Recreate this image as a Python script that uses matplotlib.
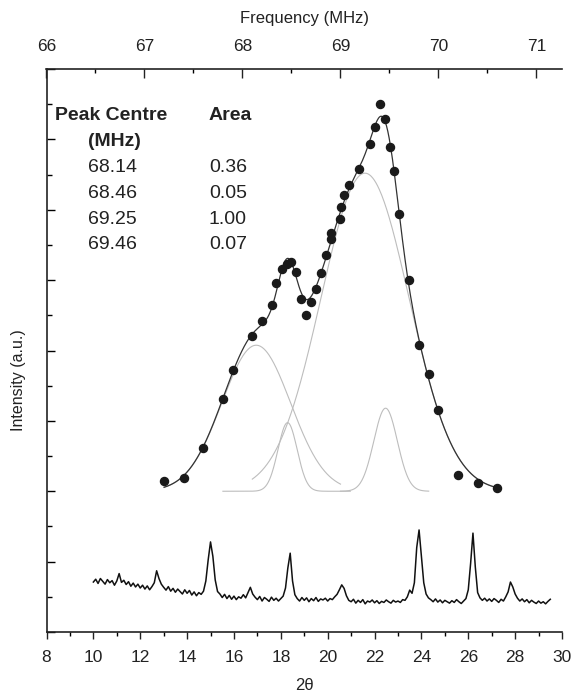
import numpy as np
import matplotlib.pyplot as plt
from matplotlib.ticker import MultipleLocator

plt.rcParams['font.family'] = ['Liberation Sans', 'DejaVu Sans']

# XRD trace (bottom), 2theta grid at 0.1 deg
theta = np.linspace(10.0, 29.5, 196)
xrd = [
    1.42, 1.50, 1.38, 1.52, 1.44, 1.36, 1.49, 1.40, 1.46, 1.33,
    1.45, 1.66, 1.41, 1.47, 1.35, 1.43, 1.30, 1.39, 1.28, 1.36,
    1.25, 1.33, 1.22, 1.31, 1.20, 1.29, 1.40, 1.74, 1.52, 1.36,
    1.27, 1.19, 1.29, 1.16, 1.24, 1.13, 1.22, 1.15, 1.08, 1.20,
    1.10, 1.18, 1.05, 1.14, 1.03, 1.12, 1.07, 1.16, 1.45, 2.05,
    2.56, 2.15, 1.48, 1.15, 1.08, 0.98, 1.07, 0.95, 1.04, 0.93,
    1.02, 0.92, 1.00, 0.96, 1.06, 0.97, 1.12, 1.27, 1.08, 0.99,
    0.92, 1.01, 0.88, 0.98, 0.93, 0.87, 0.99, 0.90, 0.96, 0.88,
    0.95, 1.02, 1.25, 1.82, 2.24, 1.45, 1.06, 0.95, 0.88, 0.98,
    0.90, 0.97, 0.86, 0.95, 0.89, 0.98, 0.87, 0.94, 0.91, 0.96,
    0.88, 0.95, 0.92, 1.00, 1.07, 1.20, 1.34, 1.24, 1.03, 0.90,
    0.86, 0.93, 0.82, 0.90, 0.84, 0.92, 0.80, 0.88, 0.85, 0.91,
    0.83, 0.89, 0.81, 0.87, 0.84, 0.91, 0.86, 0.82, 0.90, 0.85,
    0.88, 0.84, 0.92, 0.90, 1.00, 1.19, 1.10, 1.40, 2.40, 2.90,
    2.15, 1.40, 1.08, 0.97, 0.92, 0.86, 0.94, 0.85, 0.91, 0.83,
    0.90, 0.86, 0.82, 0.89, 0.84, 0.92, 0.86, 0.81, 0.88, 0.95,
    1.20, 1.95, 2.81, 1.85, 1.12, 0.97, 0.90, 0.96, 0.88, 0.94,
    0.87, 0.95, 0.90, 0.84, 0.93, 0.88, 1.00, 1.14, 1.42, 1.28,
    1.08, 0.96, 0.88, 0.94, 0.86, 0.92, 0.83, 0.90, 0.85, 0.81,
    0.88, 0.82, 0.86, 0.80, 0.87, 0.93,
]

# measured points of the spectrum (top)
dot_freq = [67.20, 67.40, 67.60, 67.80, 67.90, 68.10, 68.20, 68.30, 68.34, 68.40,
            68.45, 68.50, 68.55, 68.60, 68.65, 68.70, 68.75, 68.80, 68.85, 68.90,
            68.90, 68.99, 69.01, 69.04, 69.09, 69.19, 69.30, 69.35, 69.40, 69.45,
            69.51, 69.55, 69.60, 69.70, 69.80, 69.90, 70.00, 70.20, 70.40, 70.60]
dot_int = [4.29, 4.38, 5.22, 6.63, 7.45, 8.42, 8.85, 9.29, 9.92, 10.33,
           10.47, 10.52, 10.24, 9.45, 9.01, 9.38, 9.76, 10.19, 10.71, 11.16,
           11.33, 11.75, 12.08, 12.41, 12.70, 13.17, 13.88, 14.36, 15.00, 14.57,
           13.79, 13.10, 11.89, 10.00, 8.16, 7.33, 6.32, 4.47, 4.23, 4.09]

# fitted components
peak_centre = [68.14, 68.46, 69.25, 69.46]
peak_area = ['0.36', '0.05', '1.00', '0.07']
peak_height = [4.15, 1.95, 9.04, 2.36]
peak_sigma = [0.35, 0.098, 0.45, 0.12]
peak_lo = [67.2, 67.8, 68.1, 69.0]
peak_hi = [69.0, 69.1, 70.6, 69.9]
baseline = 4.0
fit_range = (67.2, 70.6)


def gauss(f, c, h, s):
    return h * np.exp(-(f - c) ** 2 / (2 * s ** 2))


fig = plt.figure(figsize=(5.76, 6.96), dpi=100)
ax = fig.add_axes([46.5 / 576, 64 / 696, 515.5 / 576, 563 / 696])
ax2 = ax.twiny()

# bottom trace
ax.plot(theta, xrd, color='#111111', lw=1.1)
ax.set_xlim(8, 30)
ax.set_ylim(0, 16)
ax.xaxis.set_major_locator(MultipleLocator(2))
ax.xaxis.set_minor_locator(MultipleLocator(1))
ax.yaxis.set_major_locator(MultipleLocator(2))
ax.yaxis.set_minor_locator(MultipleLocator(1))
ax.tick_params(axis='x', which='major', direction='out', length=5, width=1, pad=8, labelsize=12.5, colors='#222')
ax.tick_params(axis='x', which='minor', direction='out', length=3, width=1)
ax.tick_params(axis='y', which='major', direction='in', length=6, width=1, labelleft=False)
ax.tick_params(axis='y', which='minor', direction='in', length=3.5, width=1)
ax.set_xlabel('2θ', fontsize=12, color='#222', labelpad=9)
for s in ['top', 'right']:
    ax.spines[s].set_visible(False)
for s in ['left', 'bottom']:
    ax.spines[s].set_linewidth(1.2)
    ax.spines[s].set_color('#222')

# frequency axis and fit
ax2.set_xlim(66, 66 + 515.5 / 98)
ax2.xaxis.set_major_locator(MultipleLocator(1))
ax2.xaxis.set_minor_locator(MultipleLocator(0.5))
ax2.tick_params(axis='x', which='major', direction='in', length=6.5, width=1, pad=11, labelsize=12.5, colors='#222')
ax2.tick_params(axis='x', which='minor', direction='in', length=3, width=1)
ax2.set_xlabel('Frequency (MHz)', fontsize=12, color='#222', labelpad=11)
for s in ['bottom', 'left', 'right']:
    ax2.spines[s].set_visible(False)
ax2.spines['top'].set_linewidth(1.2)
ax2.spines['top'].set_color('#222')

for c, h, s, lo, hi in zip(peak_centre, peak_height, peak_sigma, peak_lo, peak_hi):
    f = np.linspace(lo, hi, 300)
    ax2.plot(f, baseline + gauss(f, c, h, s), color='#bdbdbd', lw=0.8)

f = np.linspace(fit_range[0], fit_range[1], 500)
total = baseline + sum(gauss(f, c, h, s) for c, h, s in zip(peak_centre, peak_height, peak_sigma))
ax2.plot(f, total, color='#333333', lw=0.9)
ax2.plot(dot_freq, dot_int, 'o', color='#1a1a1a', ms=5.8, mec='#1a1a1a')

fig.text(19 / 576, 1 - 380 / 696, 'Intensity (a.u.)', rotation=90, ha='center', va='center',
         fontsize=11.5, color='#222')

# table of fitted peaks
tx1, tx2 = 55 / 576, 209 / 576
fig.text(tx1, 1 - 115 / 696, 'Peak Centre', fontsize=14, weight='bold', va='center', color='#222')
fig.text(tx2, 1 - 115 / 696, 'Area', fontsize=14, weight='bold', va='center', color='#222')
fig.text(88 / 576, 1 - 141 / 696, '(MHz)', fontsize=14, weight='bold', va='center', color='#222')
for i, (c, a) in enumerate(zip(peak_centre, peak_area)):
    y = 1 - (168 + 25.6 * i) / 696
    fig.text(88 / 576, y, f'{c:.2f}', fontsize=14, va='center', color='#222')
    fig.text(tx2, y, a, fontsize=14, va='center', color='#222')

fig.savefig('out.png', dpi=100)
